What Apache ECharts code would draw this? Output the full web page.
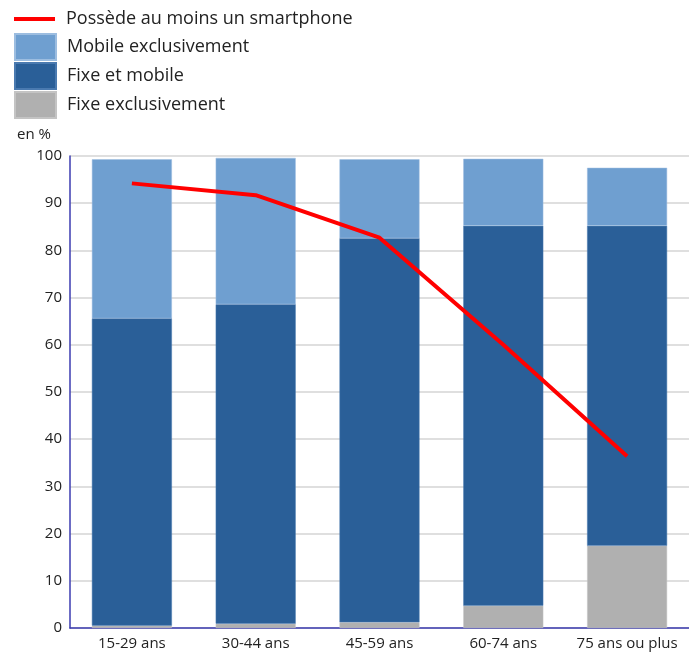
<!DOCTYPE html>
<html><head><meta charset="utf-8">
<script src="https://cdn.jsdelivr.net/npm/echarts@6/dist/echarts.min.js"></script>
<style>html,body{margin:0;padding:0;background:#fff}#c{width:689px;height:653px}</style>
</head><body><div id="c"></div>
<script>
const categories = ['15-29 ans','30-44 ans','45-59 ans','60-74 ans','75 ans ou plus'];
const fixeExclusivement = [0.5, 0.9, 1.2, 4.7, 17.4];
const fixeEtMobile = [65.1, 67.7, 81.4, 80.5, 67.8];
const mobileExclusivement = [33.7, 31.0, 16.7, 14.2, 12.3];
const smartphone = [94.2, 91.7, 82.7, 60.0, 36.4];

const font = 'Open Sans';
const legendText = {fontFamily:font, fontSize:18, color:'#222', padding:[0,0,0,6]};
const chart = echarts.init(document.getElementById('c'), null, {renderer:'canvas'});
chart.setOption({
  animation:false,
  textStyle:{fontFamily:font},
  legend:[{
    orient:'vertical', left:9, top:5, itemWidth:41, itemHeight:26, itemGap:1,
    textStyle:legendText,
    data:[{name:'Possède au moins un smartphone', icon:'path://M0,0H41V4H0Z'}]
  },{
    orient:'vertical', left:9, top:28, itemWidth:41, itemHeight:26, itemGap:1,
    textStyle:legendText,
    data:[
      {name:'Mobile exclusivement', icon:'rect'},
      {name:'Fixe et mobile', icon:'rect'},
      {name:'Fixe exclusivement', icon:'rect'}
    ]
  }],
  grid:{left:70, top:156, width:624, height:472},
  xAxis:{
    type:'category', data:categories,
    axisLine:{lineStyle:{color:'#3b3bb0', width:1.5}},
    axisTick:{show:false},
    axisLabel:{fontFamily:font, fontSize:15, color:'#222', margin:8, interval:0}
  },
  yAxis:{
    type:'value', min:0, max:100, interval:10,
    name:'en %', nameLocation:'end', nameGap:14,
    nameTextStyle:{fontFamily:font, fontSize:15, color:'#222', align:'left', padding:[0,0,0,-53]},
    axisLine:{show:true, lineStyle:{color:'#3b3bb0', width:1.5}},
    axisTick:{show:false},
    axisLabel:{fontFamily:font, fontSize:15, color:'#222', margin:8},
    splitLine:{lineStyle:{color:'#d4d4d4', width:1.5}}
  },
  series:[
    {name:'Fixe exclusivement', type:'bar', stack:'s', data:fixeExclusivement, barWidth:80,
      itemStyle:{color:'#b0b0b0', borderColor:'#c4c4c4', borderWidth:0.5}},
    {name:'Fixe et mobile', type:'bar', stack:'s', data:fixeEtMobile, barWidth:80,
      itemStyle:{color:'#2a5f98', borderColor:'#4a7ab0', borderWidth:0.5}},
    {name:'Mobile exclusivement', type:'bar', stack:'s', data:mobileExclusivement, barWidth:80,
      itemStyle:{color:'#6f9fd0', borderColor:'#9cbde0', borderWidth:0.5}},
    {name:'Possède au moins un smartphone', type:'line', data:smartphone, symbol:'none',
      lineStyle:{color:'#ff0000', width:4}, itemStyle:{color:'#ff0000'}, z:5}
  ]
});
</script></body></html>
